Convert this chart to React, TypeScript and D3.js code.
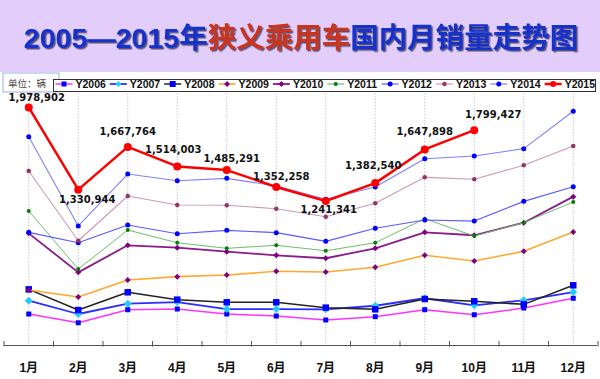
import React from 'react';
import * as d3 from 'd3';

const months = ['1月', '2月', '3月', '4月', '5月', '6月', '7月', '8月', '9月', '10月', '11月', '12月'];
const seriesNames = ['Y2006', 'Y2007', 'Y2008', 'Y2009', 'Y2010', 'Y2011', 'Y2012', 'Y2013', 'Y2014', 'Y2015'];
const y2006 = [352000, 283000, 386000, 391000, 352000, 336000, 305000, 331000, 386000, 346000, 399000, 476000];
const y2007 = [457000, 352000, 433000, 446000, 391000, 391000, 389000, 417000, 476000, 420000, 460000, 525000];
const y2008 = [546000, 383000, 523000, 465000, 444000, 444000, 402000, 389000, 470000, 452000, 428000, 578000];
const y2009 = [541000, 486000, 620000, 646000, 659000, 688000, 683000, 720000, 814000, 769000, 846000, 998000];
const y2010 = [987000, 680000, 893000, 874000, 843000, 814000, 791000, 869000, 995000, 972000, 1071000, 1276000];
const y2011 = [1163000, 706000, 1013000, 913000, 869000, 893000, 850000, 913000, 1102000, 966000, 1071000, 1234000];
const y2012 = [995000, 913000, 1053000, 984000, 1011000, 992000, 924000, 1027000, 1092000, 1084000, 1239000, 1354000];
const y2013 = [1478000, 929000, 1281000, 1210000, 1208000, 1181000, 1118000, 1224000, 1428000, 1413000, 1523000, 1675000];
const y2014 = [1748000, 1045000, 1454000, 1401000, 1420000, 1360000, 1255000, 1352000, 1575000, 1596000, 1654000, 1948000];
const y2015 = [1978902, 1330944, 1667764, 1514003, 1485291, 1352258, 1241341, 1382540, 1647898, 1799427];

// styles (not data)
type Style = { line: string; width: number; marker: 'circle' | 'square' | 'diamond'; mfill: string; msize: number };
const styles: Style[] = [
  { line: '#FF33FF', width: 1.5, marker: 'square', mfill: '#0000FF', msize: 5 },
  { line: '#2B2BFF', width: 1.8, marker: 'diamond', mfill: '#22CCFF', msize: 8 },
  { line: '#222222', width: 1.5, marker: 'square', mfill: '#0000FF', msize: 6.5 },
  { line: '#FFA830', width: 1.6, marker: 'diamond', mfill: '#800080', msize: 6 },
  { line: '#8B1A8B', width: 1.8, marker: 'diamond', mfill: '#800080', msize: 6 },
  { line: '#6CBF6C', width: 1, marker: 'circle', mfill: '#008000', msize: 4 },
  { line: '#5B5BFF', width: 1.2, marker: 'circle', mfill: '#0000FF', msize: 5 },
  { line: '#CC99B8', width: 1.1, marker: 'circle', mfill: '#993366', msize: 4.5 },
  { line: '#8080FF', width: 1.1, marker: 'circle', mfill: '#0000FF', msize: 5 },
  { line: '#FF0000', width: 2.5, marker: 'circle', mfill: '#FF0000', msize: 8 },
];
const labelOffsets: [number, number][] = [
  [8, -6], [9, 13], [0, -12], [-4, -13], [5, -8], [5, -7], [3, 12], [-2, -14], [0, -14], [19, -12],
];

const W = 600;
const H = 379;

function Marker({ x, y, s }: { x: number; y: number; s: Style }) {
  const r = s.msize / 2;
  if (s.marker === 'circle') return <circle cx={x} cy={y} r={r} fill={s.mfill} />;
  if (s.marker === 'square') return <rect x={x - r} y={y - r} width={s.msize} height={s.msize} fill={s.mfill} />;
  return <path d={`M${x},${y - r}L${x + r},${y}L${x},${y + r}L${x - r},${y}Z`} fill={s.mfill} />;
}

export default function App() {
  const allSeries = [y2006, y2007, y2008, y2009, y2010, y2011, y2012, y2013, y2014, y2015];
  const x = d3.scalePoint<string>().domain(months).range([4, 598]).padding(0.5);
  const step = x.step();
  const y = d3.scaleLinear().domain([100000, 2100000]).range([346, 92]);
  const line = d3.line<number>().x((_, i) => x(months[i]) as number).y((d) => y(d));
  const fmt = d3.format(',');
  const axisY = y(100000) - 0.5;
  const boundaries = d3.range(months.length + 1).map((i) => 4 + i * step);

  const legendX0 = 55.5;
  const legendStep = 54.35;
  const cjk = '"Liberation Sans", Arial, "Noto Sans CJK SC", sans-serif';

  return (
    <svg width={W} height={H} style={{ position: 'absolute', left: 0, top: 0, background: '#fff' }}>
      <defs>
        <filter id="tshadow" x="-5%" y="-30%" width="110%" height="160%">
          <feDropShadow dx={1.5} dy={1.5} stdDeviation={0.6} floodColor="#2a2a4a" floodOpacity={0.75} />
        </filter>
      </defs>
      <rect x={0} y={0} width={W} height={72} fill="#E3CDFB" />
      <text x={301} y={48} textAnchor="middle" fontFamily={cjk} fontWeight="bold" fontSize={28.5} fill="#1530C8" filter="url(#tshadow)">
        2005—2015年<tspan fill="#C8341E">狭义乘用车</tspan>国内月销量走势图
      </text>

      {/* gridlines */}
      {months.map((m) => (
        <line key={m} x1={x(m)} x2={x(m)} y1={93} y2={axisY} stroke="#C8C8C8" strokeWidth={1} strokeDasharray="1.5,1.5" />
      ))}
      {/* axis */}
      <line x1={4} x2={597} y1={axisY} y2={axisY} stroke="#555" strokeWidth={1} />
      {boundaries.map((b, i) => (
        <line key={i} x1={b} x2={b} y1={axisY - 4.5} y2={axisY + 1} stroke="#555" strokeWidth={1} />
      ))}
      {months.map((m) => (
        <text key={m} x={x(m)} y={372} textAnchor="middle" fontFamily={cjk} fontWeight="bold" fontSize={12} fill="#111">
          {m}
        </text>
      ))}

      {/* unit box */}
      <rect x={3} y={73} width={56} height={19} fill="#fff" stroke="#9AB0E0" strokeWidth={1} />
      <text x={8} y={87} fontFamily='"Noto Sans CJK SC", sans-serif' fontSize={9.5} fill="#444">单位：辆</text>

      {/* legend */}
      <rect x={53.5} y={79.5} width={542} height={12} fill="#fff" stroke="#333" strokeWidth={1} />
      {seriesNames.map((n, i) => {
        const lx = legendX0 + i * legendStep;
        const s = styles[i];
        return (
          <g key={n}>
            <line x1={lx} x2={lx + 17} y1={84} y2={84} stroke={s.line} strokeWidth={Math.max(1.2, s.width)} />
            <Marker x={lx + 8.5} y={84} s={{ ...s, msize: Math.min(s.msize, 6) }} />
            <text x={lx + 20} y={88} fontFamily='"Liberation Sans", Arial, sans-serif' fontWeight="bold" fontSize={10.5} fill="#111">
              {n}
            </text>
          </g>
        );
      })}

      {/* series */}
      {allSeries.map((vals, si) => (
        <g key={si}>
          <path d={line(vals) || ''} fill="none" stroke={styles[si].line} strokeWidth={styles[si].width} strokeLinejoin="round" />
          {vals.map((v, i) => (
            <Marker key={i} x={x(months[i]) as number} y={y(v)} s={styles[si]} />
          ))}
        </g>
      ))}

      {/* data labels for 2015 */}
      {y2015.map((v, i) => (
        <text
          key={i}
          x={(x(months[i]) as number) + labelOffsets[i][0]}
          y={y(v) + labelOffsets[i][1]}
          textAnchor="middle"
          fontFamily='"DejaVu Sans", Verdana, sans-serif'
          fontWeight="bold"
          fontSize={10}
          fill="#111"
        >
          {fmt(v)}
        </text>
      ))}
    </svg>
  );
}
